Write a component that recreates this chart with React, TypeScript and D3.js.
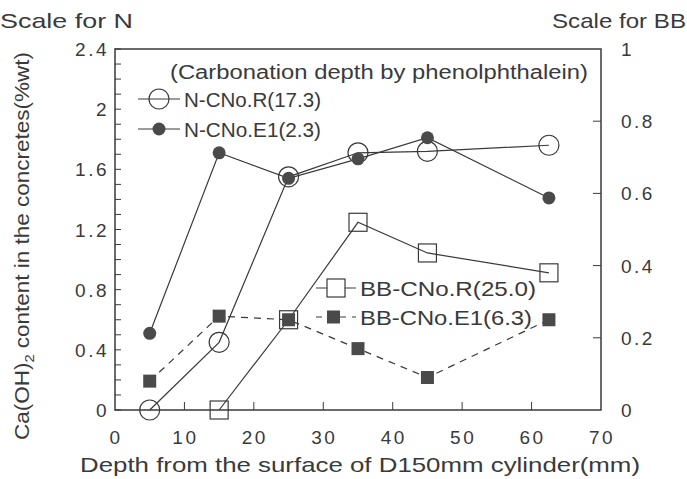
import React from "react";
import * as d3 from "d3";

// depth (mm) of each sample
const depthN = [5, 15, 25, 35, 45, 62.5];
const depthBB = [15, 25, 35, 45, 62.5];
const depthBBE1 = [5, 15, 25, 35, 45, 62.5];

// values, N on left scale, BB on right scale
const nR = [0, 0.45, 1.55, 1.71, 1.72, 1.76];
const nE1 = [0.51, 1.71, 1.54, 1.67, 1.81, 1.41];
const bbR = [0, 0.25, 0.52, 0.435, 0.38];
const bbE1 = [0.08, 0.26, 0.25, 0.17, 0.09, 0.25];

const xTicks = [0, 10, 20, 30, 40, 50, 60, 70];
const leftTicks = [0, 0.4, 0.8, 1.2, 1.6, 2, 2.4];
const rightTicks = [0, 0.2, 0.4, 0.6, 0.8, 1];

const INK = "#3a3a3a";
const FONT = "'Liberation Sans', Arial, sans-serif";

const App = () => {
  const width = 687;
  const height = 479;
  const box = { left: 115, right: 601, top: 49, bottom: 410 };

  const xScale = d3.scaleLinear().domain([0, 70]).range([box.left, box.right]);
  const yN = d3.scaleLinear().domain([0, 2.4]).range([box.bottom, box.top]);
  const yBB = d3.scaleLinear().domain([0, 1]).range([box.bottom, box.top]);

  const line = (xs: number[], ys: number[], ys2: d3.ScaleLinear<number, number>) =>
    d3
      .line<number>()
      .x((_, i) => xScale(xs[i]))
      .y((d) => ys2(d))(ys) || "";

  const minor = d3.range(0, 2.4001, 0.1);

  return (
    <svg
      width={width}
      height={height}
      style={{ position: "absolute", left: 0, top: 0, background: "#fff" }}
      fontFamily={FONT}
    >
      {/* frame */}
      <rect
        x={box.left}
        y={box.top}
        width={box.right - box.left}
        height={box.bottom - box.top}
        fill="none"
        stroke={INK}
        strokeWidth={1.5}
      />

      {/* left ticks */}
      {minor.map((v, i) => (
        <line key={"lm" + i} x1={box.left} x2={box.left + 6} y1={yN(v)} y2={yN(v)} stroke={INK} />
      ))}
      {leftTicks.map((v) => (
        <text key={"lt" + v} x={109} y={yN(v) + 7} textAnchor="end" fontSize={19} fill={INK} letterSpacing={2.5}>
          {v === 0 || v === 2 ? String(v) : v.toFixed(1)}
        </text>
      ))}

      {/* right ticks */}
      {rightTicks.map((v) => (
        <g key={"rt" + v}>
          {v > 0 && v < 1 && (
            <line x1={box.right - 8} x2={box.right} y1={yBB(v)} y2={yBB(v)} stroke={INK} />
          )}
          <text x={621} y={yBB(v) + 7} fontSize={19} fill={INK} letterSpacing={2.5}>
            {v === 0 || v === 1 ? String(v) : v.toFixed(1)}
          </text>
        </g>
      ))}

      {/* bottom ticks */}
      {xTicks.map((v) => (
        <g key={"xt" + v}>
          {v > 0 && v < 70 && (
            <line x1={xScale(v)} x2={xScale(v)} y1={box.bottom - 8} y2={box.bottom} stroke={INK} />
          )}
          <text x={xScale(v) + 1} y={444} textAnchor="middle" fontSize={19} fill={INK} letterSpacing={2.5}>
            {v}
          </text>
        </g>
      ))}

      {/* titles */}
      <text x={0} y={28} fontSize={21} fill={INK} textLength={133} lengthAdjust="spacingAndGlyphs">Scale for N</text>
      <text x={552} y={28} fontSize={21} fill={INK} textLength={134} lengthAdjust="spacingAndGlyphs">Scale for BB</text>
      <text x={80} y={472} fontSize={21} fill={INK} textLength={560} lengthAdjust="spacingAndGlyphs">
        Depth from the surface of D150mm cylinder(mm)
      </text>
      <text
        transform="translate(29,440) rotate(-90)"
        fontSize={20}
        fill={INK}
        textLength={388}
        lengthAdjust="spacingAndGlyphs"
      >
        Ca(OH)<tspan dy={5} fontSize={13}>2</tspan>
        <tspan dy={-5}> content in the concretes(%wt)</tspan>
      </text>

      {/* series lines */}
      <path d={line(depthN, nR, yN)} fill="none" stroke={INK} strokeWidth={1.2} />
      <path d={line(depthN, nE1, yN)} fill="none" stroke={INK} strokeWidth={1.2} />
      <path d={line(depthBB, bbR, yBB)} fill="none" stroke={INK} strokeWidth={1.2} />
      <path d={line(depthBBE1, bbE1, yBB)} fill="none" stroke={INK} strokeWidth={1.2} strokeDasharray="7,6" />

      {/* markers */}
      {nR.map((v, i) => (
        <circle key={"nr" + i} cx={xScale(depthN[i])} cy={yN(v)} r={10} fill="none" stroke={INK} strokeWidth={1.2} />
      ))}
      {nE1.map((v, i) => (
        <circle key={"ne" + i} cx={xScale(depthN[i])} cy={yN(v)} r={6.5} fill="#4a4a4a" />
      ))}
      {bbR.map((v, i) => (
        <rect key={"br" + i} x={xScale(depthBB[i]) - 9} y={yBB(v) - 9} width={18} height={18} fill="none" stroke={INK} strokeWidth={1.2} />
      ))}
      {bbE1.map((v, i) => (
        <rect key={"be" + i} x={xScale(depthBBE1[i]) - 6.5} y={yBB(v) - 6.5} width={13} height={13} fill="#4a4a4a" />
      ))}

      {/* legends */}
      <text x={170} y={79} fontSize={20} fill={INK} textLength={418} lengthAdjust="spacingAndGlyphs">
        (Carbonation depth by phenolphthalein)
      </text>
      <line x1={138} x2={180} y1={99} y2={99} stroke={INK} strokeWidth={1.2} />
      <circle cx={159} cy={99} r={10} fill="none" stroke={INK} strokeWidth={1.2} />
      <text x={184} y={107} fontSize={21} fill={INK} textLength={137} lengthAdjust="spacingAndGlyphs">N-CNo.R(17.3)</text>
      <line x1={138} x2={180} y1={129} y2={129} stroke={INK} strokeWidth={1.2} />
      <circle cx={159} cy={129} r={6.5} fill="#4a4a4a" />
      <text x={184} y={137} fontSize={21} fill={INK} textLength={137} lengthAdjust="spacingAndGlyphs">N-CNo.E1(2.3)</text>

      <line x1={316} x2={356} y1={288} y2={288} stroke={INK} strokeWidth={1.2} />
      <rect x={327} y={279} width={18} height={18} fill="#fff" stroke={INK} strokeWidth={1.2} />
      <text x={360} y={296} fontSize={21} fill={INK} textLength={176} lengthAdjust="spacingAndGlyphs">BB-CNo.R(25.0)</text>
      <line x1={316} x2={356} y1={317} y2={317} stroke={INK} strokeWidth={1.2} strokeDasharray="6,6" />
      <rect x={327} y={310.5} width={13} height={13} fill="#4a4a4a" />
      <text x={360} y={325} fontSize={21} fill={INK} textLength={172} lengthAdjust="spacingAndGlyphs">BB-CNo.E1(6.3)</text>
    </svg>
  );
};

export default App;
